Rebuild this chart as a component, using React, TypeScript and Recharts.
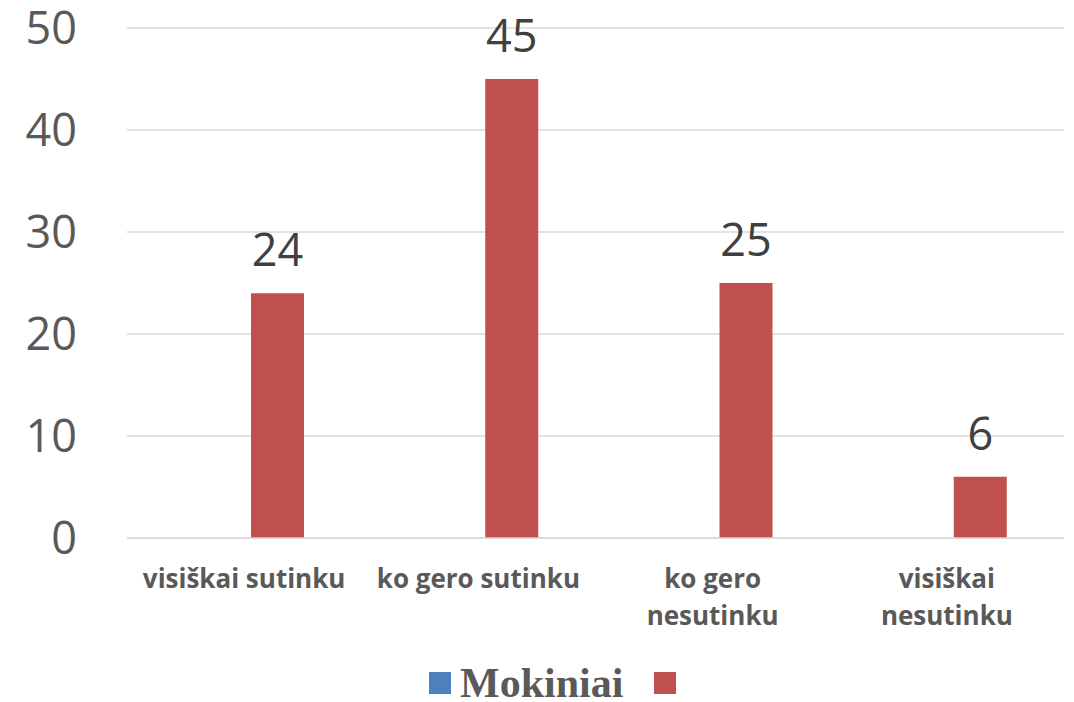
import React from "react";
import { BarChart, Bar, XAxis, YAxis, CartesianGrid, Legend, LabelList } from "recharts";

const categories = ["visiškai sutinku", "ko gero sutinku", "ko gero\nnesutinku", "visiškai\nnesutinku"];
const mokiniai = [0, 0, 0, 0];
const series2 = [24, 45, 25, 6];
const yTicks = [0, 10, 20, 30, 40, 50];
const seriesNames = ["Mokiniai", ""];
const seriesKeys = ["a", "b"];

const data = categories.map((c, i) => ({ name: c, a: mokiniai[i], b: series2[i] }));

const XTick = (props: any) => {
  const { x, y, payload } = props;
  const lines = String(payload.value).split("\n");
  return (
    <text x={x} y={y} textAnchor="middle" fill="#595959" fontFamily="'Open Sans', sans-serif" fontWeight={700} fontSize={26}>
      {lines.map((l: string, i: number) => (
        <tspan key={i} x={x} dy={i === 0 ? 42 : 37}>{l}</tspan>
      ))}
    </text>
  );
};

const LegendContent = (props: any) => {
  const payload = [...(props.payload || [])].sort(
    (p: any, q: any) => seriesKeys.indexOf(p.dataKey) - seriesKeys.indexOf(q.dataKey)
  );
  return (
    <div style={{ display: "flex", alignItems: "center", height: 50 }}>
      {payload.map((p: any, i: number) => (
        <div key={i} style={{ display: "flex", alignItems: "center", marginRight: 31 }}>
          <div style={{ width: 22, height: 22, background: p.color, marginRight: 9 }} />
          {p.value ? (
            <span style={{ fontFamily: "'Liberation Serif', serif", fontWeight: 700, fontSize: 42, color: "#595959", lineHeight: "48px", whiteSpace: "nowrap" }}>{p.value}</span>
          ) : null}
        </div>
      ))}
    </div>
  );
};

export default function App() {
  return (
    <div style={{ position: "absolute", left: 0, top: 0, background: "#fff" }}>
      <BarChart width={1074} height={702} data={data} margin={{ top: 28, right: 10, bottom: 14, left: 0 }} barSize={53} barGap={14}>
        <CartesianGrid vertical={false} stroke="#d9d9d9" strokeWidth={1.5} />
        <XAxis dataKey="name" tick={<XTick />} tickLine={false} axisLine={{ stroke: "#d9d9d9", strokeWidth: 1.5 }} height={100} interval={0} />
        <YAxis domain={[0, 50]} ticks={yTicks} width={127} tickLine={false} axisLine={false} tickSize={0} tickMargin={50}
          tick={{ fill: "#595959", fontSize: 45, fontFamily: "'Open Sans', sans-serif" }} />
        <Legend content={<LegendContent />} wrapperStyle={{ position: "absolute", left: 429, top: 658, width: 500 }} />
        <Bar dataKey="a" name={seriesNames[0]} fill="#4f81bd" isAnimationActive={false} />
        <Bar dataKey="b" name={seriesNames[1]} fill="#c0504d" isAnimationActive={false}>
          <LabelList dataKey="b" position="top" offset={27} fill="#404040" fontSize={45} fontFamily="'Open Sans', sans-serif" />
        </Bar>
      </BarChart>
    </div>
  );
}
